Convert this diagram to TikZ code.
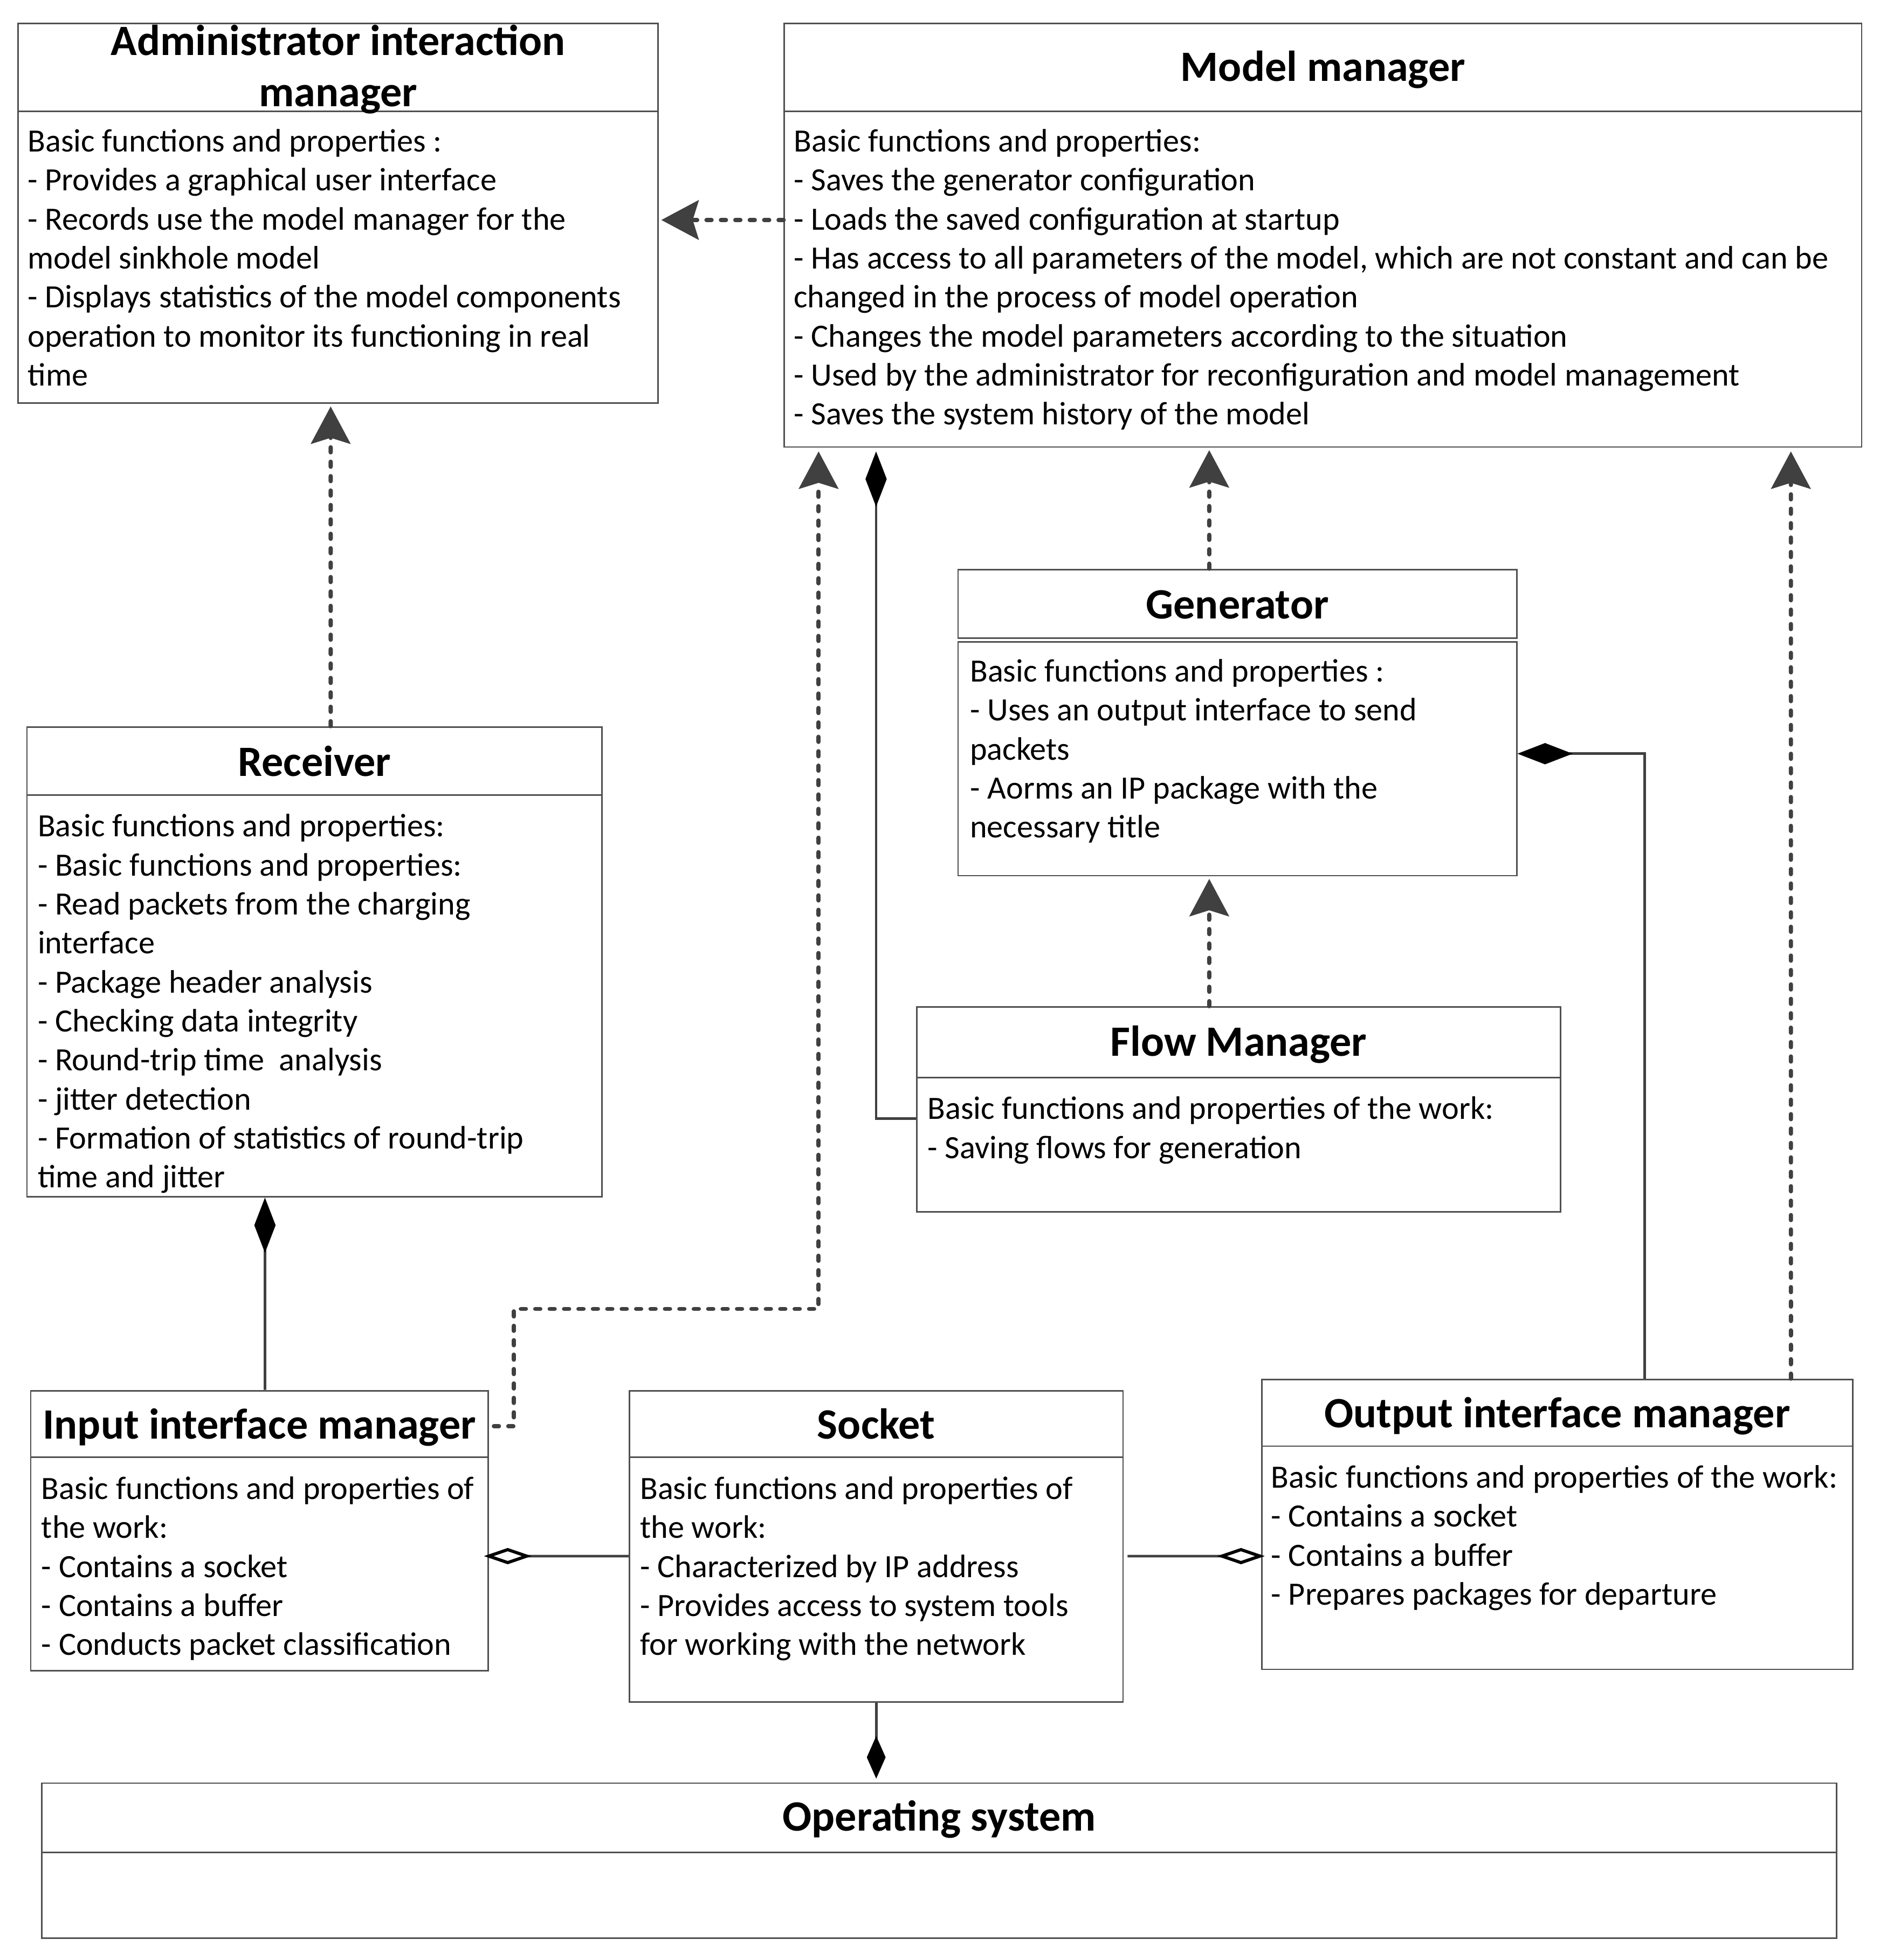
\documentclass[tikz,border=0pt]{standalone}
\usepackage{fontspec}
\setmainfont{Carlito}
\usetikzlibrary{arrows.meta,calc}
\definecolor{lc}{HTML}{404040}
\definecolor{bc}{HTML}{505050}
\newcommand{\bodytext}[1]{\parbox[t]{900pt}{\raggedright\fontsize{26}{31.2}\selectfont #1}}
\newcommand{\ttltext}[1]{\parbox[t]{900pt}{\centering\fontsize{34.6}{41}\selectfont\bfseries #1}}
\begin{document}
\begin{tikzpicture}[x=1pt,y=-1pt,scale=0.9972,every node/.append style={transform shape},
  box/.style={draw=bc, line width=1.2pt, fill=white, inner sep=0pt, anchor=north west},
  divl/.style={draw=bc, line width=1.2pt},
  ttl/.style={anchor=base, inner sep=0pt},
  bdy/.style={anchor=base west, inner sep=0pt},
  dep/.style={draw=lc, line width=3.4pt, dash pattern=on 4pt off 7.5pt, line cap=round,
    -{Stealth[length=30pt,width=32pt,inset=5pt,line width=0.5pt,color=lc]}},
  comp/.style={draw=lc, line width=2pt,
    -{Diamond[length=44pt,width=17pt,line width=1pt,color=black]}},
  compos/.style={draw=lc, line width=2pt,
    -{Diamond[length=34pt,width=15pt,line width=1pt,color=black]}},
  agg/.style={draw=lc, line width=2pt,
    -{Diamond[open,length=38pt,width=13pt,line width=2.5pt,color=black,fill=white]}}
]
\fill[white] (0,0) rectangle (1504.2,1568.1);
\useasboundingbox (0,0) rectangle (1504.2,1568.1);

% Boxes
\node[box, minimum width=512pt, minimum height=304pt] (admin) at (14,18) {};
\node[box, minimum width=862pt, minimum height=339pt] (mm) at (627,18) {};
\node[box, minimum width=447pt, minimum height=55pt] (gent) at (766,455) {};
\node[box, minimum width=447pt, minimum height=187pt] (genb) at (766,513) {};
\node[box, minimum width=460pt, minimum height=376pt] (recv) at (21,581) {};
\node[box, minimum width=515pt, minimum height=164pt] (flow) at (733,805) {};
\node[box, minimum width=366pt, minimum height=224pt] (inp) at (24,1112) {};
\node[box, minimum width=395pt, minimum height=249pt] (sock) at (503,1112) {};
\node[box, minimum width=473pt, minimum height=232pt] (out) at (1009,1103) {};
\node[box, minimum width=1436pt, minimum height=124pt] (os) at (33,1426) {};

% Dividers
\draw[divl] ($(admin.north west)+(0,71)$) -- ($(admin.north east)+(0,71)$);
\draw[divl] ($(mm.north west)+(0,71)$) -- ($(mm.north east)+(0,71)$);
\draw[divl] ($(recv.north west)+(0,55)$) -- ($(recv.north east)+(0,55)$);
\draw[divl] ($(flow.north west)+(0,57)$) -- ($(flow.north east)+(0,57)$);
\draw[divl] ($(inp.north west)+(0,54)$) -- ($(inp.north east)+(0,54)$);
\draw[divl] ($(sock.north west)+(0,54)$) -- ($(sock.north east)+(0,54)$);
\draw[divl] ($(out.north west)+(0,54)$) -- ($(out.north east)+(0,54)$);
\draw[divl, line width=1.6pt] ($(os.north west)+(0,56)$) -- ($(os.north east)+(0,56)$);

% Titles
\node[ttl] (admin-t) at ($(admin.north)+(0,26)$) {\ttltext{Administrator interaction\\manager}};
\node[ttl] (mm-t) at ($(mm.north)+(0,47)$) {\ttltext{Model manager}};
\node[ttl] (gen-t) at ($(gent.north)+(0,40)$) {\ttltext{Generator}};
\node[ttl] (recv-t) at ($(recv.north)+(0,40)$) {\ttltext{Receiver}};
\node[ttl] (flow-t) at ($(flow.north)+(0,40)$) {\ttltext{Flow Manager}};
\node[ttl] (inp-t) at ($(inp.north)+(0,39)$) {\ttltext{Input interface manager}};
\node[ttl] (sock-t) at ($(sock.north)+(0,39)$) {\ttltext{Socket}};
\node[ttl] (out-t) at ($(out.north)+(0,39)$) {\ttltext{Output interface manager}};
\node[ttl] (os-t) at ($(os.north)+(0,39)$) {\ttltext{Operating system}};

% Bodies
\node[bdy] (admin-b) at ($(admin.north west)+(8,103.5)$) {\bodytext{Basic functions and properties :\\
- Provides a graphical user interface\\
- Records use the model manager for the\\
model sinkhole model\\
- Displays statistics of the model components\\
operation to monitor its functioning in real\\
time}};
\node[bdy] (mm-b) at ($(mm.north west)+(8,103.5)$) {\bodytext{Basic functions and properties:\\
- Saves the generator configuration\\
- Loads the saved configuration at startup\\
- Has access to all parameters of the model, which are not constant and can be\\
changed in the process of model operation\\
- Changes the model parameters according to the situation\\
- Used by the administrator for reconfiguration and model management\\
- Saves the system history of the model}};
\node[bdy] (gen-b) at ($(genb.north west)+(10,32.5)$) {\bodytext{Basic functions and properties :\\
- Uses an output interface to send\\
packets\\
- Aorms an IP package with the\\
necessary title}};
\node[bdy] (recv-b) at ($(recv.north west)+(9,88.5)$) {\bodytext{Basic functions and properties:\\
- Basic functions and properties:\\
- Read packets from the charging\\
interface\\
- Package header analysis\\
- Checking data integrity\\
- Round-trip time\ \ analysis\\
- jitter detection\\
- Formation of statistics of round-trip\\
time and jitter}};
\node[bdy] (flow-b) at ($(flow.north west)+(9,90.5)$) {\bodytext{Basic functions and properties of the work:\\
- Saving flows for generation}};
\node[bdy] (inp-b) at ($(inp.north west)+(9,87.5)$) {\bodytext{Basic functions and properties of\\
the work:\\
- Contains a socket\\
- Contains a buffer\\
- Conducts packet classification}};
\node[bdy] (sock-b) at ($(sock.north west)+(9,87.5)$) {\bodytext{Basic functions and properties of\\
the work:\\
- Characterized by IP address\\
- Provides access to system tools\\
for working with the network}};
\node[bdy] (out-b) at ($(out.north west)+(8,87.5)$) {\bodytext{Basic functions and properties of the work:\\
- Contains a socket\\
- Contains a buffer\\
- Prepares packages for departure}};

% Connectors
\draw[dep] ($(mm.north west)+(0,158)$) -- ($(admin.north east)+(2,158)$);
\draw[dep] ($(recv.north)+(13,0)$) coordinate (rb) -- ($(rb |- admin.south)+(0,2)$);
\draw[dep] ($(inp.north east)+(4,29)$) -- ++(16,0) |- ($(mm.south west)+(28,689)$) -- ($(mm.south west)+(28,3)$);
\draw[comp] ($(flow.north west)+(0,90)$) -| ($(mm.south west)+(74,3)$);
\draw[dep] ($(gent.north)+(-22.5,0)$) coordinate (g1) -- ($(g1 |- mm.south)+(0,2)$);
\draw[dep] ($(flow.north)+(-23.5,0)$) coordinate (f1) -- ($(f1 |- genb.south)+(0,2)$);
\draw[comp] ($(out.north west)+(307,0)$) |- ($(genb.north east)+(0,90)$);
\draw[dep] ($(out.north west)+(424,0)$) coordinate (o1) -- ($(o1 |- mm.south)+(0,3)$);
\draw[comp] ($(inp.north west)+(188,0)$) coordinate (i1) -- (i1 |- recv.south);
\draw[agg] ($(sock.north west)+(0,133)$) coordinate (s1) -- ($(s1 -| inp.east)+(-4,0)$);
\draw[agg] ($(sock.north east)+(3,133)$) coordinate (s2) -- ($(s2 -| out.west)+(3,0)$);
\draw[compos] (sock.south) -- ($(sock.south |- os.north)+(0,-3)$);
\end{tikzpicture}
\end{document}
